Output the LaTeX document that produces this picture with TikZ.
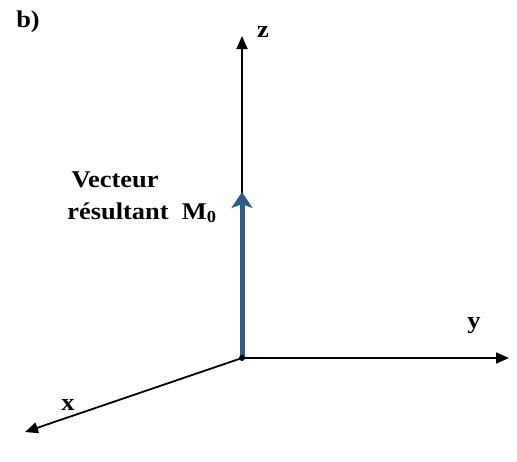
\documentclass[tikz,border=0pt]{standalone}
\usepackage{fontspec}
\setmainfont[FakeStretch=1.1]{Liberation Serif}
\usetikzlibrary{arrows.meta}
\definecolor{vecblue}{RGB}{46,90,140}
\tikzset{
  axis/.style={line width=1.8pt,-{Triangle[length=13pt,width=11pt]}},
  axislabel/.style={font=\bfseries\fontsize{24}{27}\selectfont},
  vect/.style={vecblue,line width=5pt,-{Stealth[length=16pt,width=21pt,inset=4pt]}}
}
\begin{document}
\begin{tikzpicture}[x=1pt,y=-1pt]
\useasboundingbox (0,0) rectangle (517,461);
\coordinate (O) at (242,358);
\coordinate (zend) at (242,36);
\coordinate (yend) at (509,358);
\coordinate (xend) at (25,432);
\coordinate (Mend) at (242,192);
\draw[axis] (O)--(zend);
\draw[axis] (O)--(yend);
\draw[axis] (O)--(xend);
\draw[vect] (O)--(Mend);
\fill (O) circle (3pt);
\node[axislabel] (zlab) at (263,32) {z};
\node[axislabel] (ylab) at (474,326) {y};
\node[axislabel] (xlab) at (68,405) {x};
\node[axislabel] (blab) at (28,22) {b)};
\node[axislabel,anchor=base] (Mlab1) at (115,187) {Vecteur};
\node[axislabel,anchor=base] (Mlab2) at (142,219) {résultant\ \ M\textsubscript{0}};
\end{tikzpicture}
\end{document}
